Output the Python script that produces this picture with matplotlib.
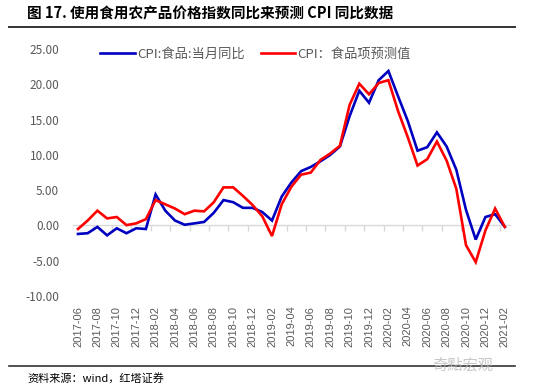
import numpy as np
import pandas as pd
import matplotlib
matplotlib.use("Agg")
import matplotlib.pyplot as plt

plt.rcParams['font.family'] = ['Noto Sans CJK SC', 'DejaVu Sans']

# monthly categories 2017-06 .. 2021-02
months = [p.strftime('%Y-%m') for p in pd.period_range('2017-06', '2021-02', freq='M')]

# CPI: food, yoy (%)
cpi_food = [-1.2, -1.1, -0.2, -1.4, -0.4, -1.1, -0.4, -0.5, 4.4, 2.1,
            0.7, 0.1, 0.3, 0.5, 1.8, 3.6, 3.3, 2.5, 2.5, 1.9,
            0.7, 4.1, 6.1, 7.7, 8.3, 9.1, 10.0, 11.2, 15.5, 19.1,
            17.4, 20.6, 21.9, 18.3, 14.8, 10.6, 11.1, 13.2, 11.2, 7.9,
            2.2, -2.0, 1.2, 1.6, -0.2]

# predicted food CPI from agricultural product price index
cpi_pred = [-0.5, 0.7, 2.1, 1.0, 1.2, 0.05, 0.3, 0.9, 3.6, 3.0,
            2.4, 1.6, 2.1, 2.0, 3.3, 5.4, 5.4, 4.2, 2.9, 1.3,
            -1.5, 3.0, 5.5, 7.2, 7.5, 9.3, 10.2, 11.3, 17.1, 20.1,
            18.6, 20.2, 20.6, 16.2, 12.5, 8.5, 9.4, 11.9, 9.2, 5.2,
            -2.8, -5.2, -0.7, 2.4, -0.2]

label_food = 'CPI:食品:当月同比'
label_pred = 'CPI：食品项预测值'
title = '图 17. 使用食用农产品价格指数同比来预测 CPI 同比数据'
source = '资料来源：wind，红塔证券'

grey = '#595959'
x = np.arange(len(months))

fig = plt.figure(figsize=(5.54, 3.90), dpi=100)
ax = fig.add_axes([0.132, 0.241, 0.788, 0.633])

ax.plot(x, cpi_food, color='#0000C0', lw=1.9, label=label_food, solid_joinstyle='miter')
ax.plot(x, cpi_pred, color='#FF0000', lw=1.9, label=label_pred, solid_joinstyle='miter')

ax.set_xlim(-0.5, len(months) - 0.5)
ax.set_ylim(-10, 25)
ax.set_yticks(np.arange(-10, 26, 5))
ax.set_yticklabels([f'{v:.2f}' for v in np.arange(-10, 26, 5)])
ax.tick_params(axis='y', length=0, pad=10, labelsize=8.5, labelcolor=grey)

ax.set_xticks(x[::2])
ax.set_xticklabels(months[::2], rotation=90, fontsize=8, color=grey,
                   family=['Liberation Sans'])
ax.tick_params(axis='x', length=0, pad=7)

for s in ax.spines.values():
    s.set_visible(False)

# zero line with category tick marks
zax = ax.secondary_xaxis(10 / 35)
zax.spines['bottom'].set_color('#D9D9D9')
zax.spines['bottom'].set_linewidth(1.0)
zax.set_xticks(np.arange(1.5, len(months) - 0.5, 2))
zax.set_xticklabels([])
zax.tick_params(axis='x', length=4, color='#D9D9D9', width=1.0)

leg = ax.legend(loc='upper left', bbox_to_anchor=(0.035, 1.055), ncol=2, frameon=False,
                fontsize=9.5, handlelength=2.6, handletextpad=0.2, columnspacing=1.2)
for t in leg.get_texts():
    t.set_color(grey)

fig.text(0.049, 0.965, title, fontsize=10.5, fontweight='bold', color='black', va='center')
fig.add_artist(plt.Line2D([0.016, 0.93], [0.93, 0.93], color='#333333', lw=1.4))
fig.add_artist(plt.Line2D([0.016, 0.93], [0.062, 0.062], color='#333333', lw=1.2))
fig.text(0.049, 0.03, source, fontsize=8, color='black', va='center')
fig.text(0.78, 0.065, '奇點宏观', fontsize=11, color='#BBBBBB', va='center', alpha=0.8)

fig.savefig('out.png', dpi=100)
